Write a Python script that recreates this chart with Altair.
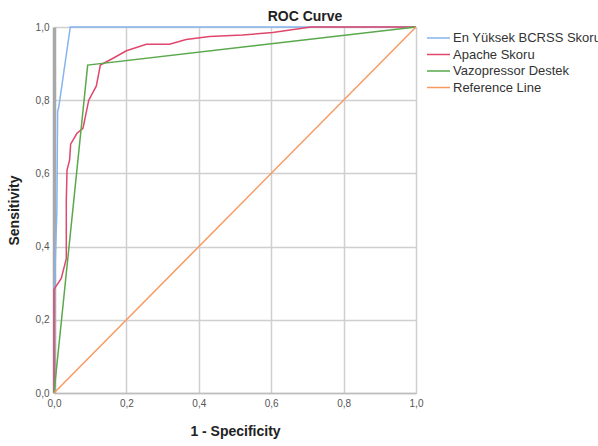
import altair as alt
import pandas as pd

series_names = ["En Yüksek BCRSS Skoru", "Apache Skoru", "Vazopressor Destek", "Reference Line"]
series_colors = ["#86b4ee", "#e0476c", "#5aa84c", "#f79a62"]

bcrss_x = [0.0, 0.0, 0.008, 0.010, 0.013, 0.045, 1.0]
bcrss_y = [0.0, 0.25, 0.50, 0.77, 0.78, 1.0, 1.0]

apache_x = [0.0, 0.0, 0.02, 0.034, 0.034, 0.036, 0.043, 0.046, 0.063, 0.08, 0.096, 0.117, 0.128,
            0.162, 0.20, 0.255, 0.319, 0.365, 0.43, 0.52, 0.604, 0.71, 1.0]
apache_y = [0.0, 0.283, 0.313, 0.367, 0.527, 0.609, 0.636, 0.68, 0.709, 0.723, 0.80, 0.839, 0.896,
            0.914, 0.935, 0.953, 0.953, 0.966, 0.974, 0.978, 0.985, 1.0, 1.0]

vazo_x = [0.0, 0.093, 1.0]
vazo_y = [0.0, 0.896, 1.0]

ref_x = [0.0, 1.0]
ref_y = [0.0, 1.0]

rows = []
for name, xs, ys in zip(series_names, [bcrss_x, apache_x, vazo_x, ref_x], [bcrss_y, apache_y, vazo_y, ref_y]):
    for i, (a, b) in enumerate(zip(xs, ys)):
        rows.append({"series": name, "x": a, "y": b, "order": i})
df = pd.DataFrame(rows)
legend_df = pd.DataFrame({"series": series_names})

tick_vals = [0.0, 0.2, 0.4, 0.6, 0.8, 1.0]
label_expr = "replace(format(datum.value, '.1f'), '.', ',')"
color_scale = alt.Scale(domain=series_names, range=series_colors)

lines = alt.Chart(df).mark_line(strokeWidth=1.5, clip=False).encode(
    x=alt.X("x:Q", scale=alt.Scale(domain=[0, 1], nice=False),
            axis=alt.Axis(title="1 - Specificity", values=tick_vals, labelExpr=label_expr,
                          grid=True, gridColor="#cfcfcf", gridWidth=1.5,
                          domainColor="#bdbdbd", domainWidth=1.5, ticks=False,
                          labelFlush=False,
                          labelFont="Liberation Sans", labelFontSize=10, labelColor="#555555",
                          labelPadding=5,
                          titleFont="Liberation Sans", titleFontSize=14, titleFontWeight="bold",
                          titleColor="#222222", titlePadding=16)),
    y=alt.Y("y:Q", scale=alt.Scale(domain=[0, 1], nice=False),
            axis=alt.Axis(title="Sensitivity", values=tick_vals, labelExpr=label_expr,
                          grid=True, gridColor="#cfcfcf", gridWidth=1.5,
                          domainColor="#a8a8a8", domainWidth=3.5, ticks=False,
                          labelFlush=False,
                          labelFont="Liberation Sans", labelFontSize=10, labelColor="#555555",
                          labelPadding=5,
                          titleFont="Liberation Sans", titleFontSize=14, titleFontWeight="bold",
                          titleColor="#222222", titlePadding=14)),
    color=alt.Color("series:N", scale=color_scale, legend=None),
    order="order:Q",
)

legend_y = alt.Y("series:N", scale=alt.Scale(type="point", domain=series_names, range=[11, 60.5], padding=0),
                 axis=None)
legend_lines = alt.Chart(legend_df).mark_rule(strokeWidth=1.5, clip=False).encode(
    x=alt.value(373), x2=alt.value(396),
    y=legend_y,
    color=alt.Color("series:N", scale=color_scale, legend=None),
)
legend_text = alt.Chart(legend_df).mark_text(
    align="left", baseline="middle", font="Liberation Sans", fontSize=13, color="#333333", clip=False
).encode(
    x=alt.value(399),
    y=legend_y,
    text="series:N",
)

chart = alt.layer(lines, legend_lines, legend_text).resolve_scale(y="independent").properties(
    width=362, height=366,
    title=alt.TitleParams("ROC Curve", font="Liberation Sans", fontSize=14, fontWeight="bold",
                          color="#222222", anchor="middle", dx=70, offset=0, dy=2),
    autosize=alt.AutoSizeParams(type="none"),
    padding={"left": 54, "top": 27, "right": 182, "bottom": 53},
).configure_view(stroke=None)

chart.save("out.html", embed_options={"renderer": "svg", "actions": False})
